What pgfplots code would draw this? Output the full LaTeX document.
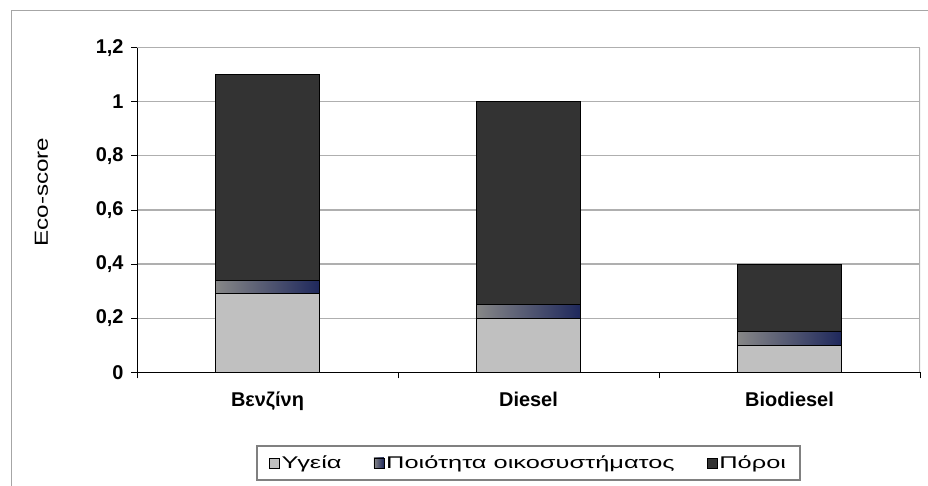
\documentclass[border=0pt]{standalone}
\usepackage{pgfplots}
\pgfplotsset{compat=1.18}
\usepackage{graphicx}
\usepackage{fontspec}
\setmainfont{Liberation Sans}
\definecolor{cHealth}{RGB}{192,192,192}
\definecolor{cEcoL}{RGB}{135,135,135}
\definecolor{cEcoM}{RGB}{80,88,120}
\definecolor{cEcoR}{RGB}{30,40,92}
\definecolor{cRes}{RGB}{51,51,51}
\definecolor{cGrid}{RGB}{175,175,175}
\begin{document}
\begin{tikzpicture}[x=1bp,y=1bp]
\path[use as bounding box] (0,0) rectangle (928,486);
\draw[gray!70, line width=1bp] (11,0) -- (11,475) -- (928,475);
\begin{axis}[
  at={(137bp,113.7bp)}, anchor=south west,
  width=783bp, height=324.6bp, scale only axis,
  ybar, bar shift=0pt, bar width=0.4,
  xmin=0, xmax=3, ymin=0, ymax=1.2,
  axis lines*=left,
  axis line style={black, line width=0.8bp},
  ytick={0,0.2,0.4,0.6,0.8,1,1.2},
  ymajorgrids, grid style={cGrid, line width=1.2bp},
  /pgf/number format/use comma,
  /pgf/number format/assume math mode=true,
  yticklabel style={font=\bfseries\fontsize{20}{20}\selectfont, xshift=-4bp},
  xtick={0.5,1.5,2.5},
  xticklabels={Βενζίνη,Diesel,Biodiesel},
  xticklabel style={font=\bfseries\fontsize{20}{20}\selectfont, yshift=-10bp},
  minor xtick={0,1,2,3},
  every major x tick/.append style={draw=none},
  tick align=outside, major tick length=6bp, minor tick length=6bp,
  tick style={black, line width=0.8bp},
  ylabel={\scalebox{1.28}[1]{Eco-score}},
  ylabel style={font=\fontsize{19}{19}\selectfont, at={(axis description cs:-0.122,0.555)}, anchor=center, rotate=0},
  legend style={at={(axis description cs:0.5,-0.2794)}, anchor=center,
    legend columns=3, draw=gray, line width=1.3bp,
    font=\fontsize{17}{17}\selectfont, inner xsep=12bp, inner ysep=8bp,
    nodes={inner xsep=2bp},
    /tikz/every even column/.append style={column sep=30bp}},
  legend image code/.code={\draw[#1, line width=0.6bp] (0bp,-5bp) rectangle (10bp,5bp);},
  reverse legend,
]
% stacked bars drawn as overlapping cumulative heights (top of each segment)
% Πόροι: top of stack (total)
\addplot[fill=cRes, draw=black, line width=0.8bp] coordinates {(0.5,1.10) (1.5,1.00) (2.5,0.40)};
% Ποιότητα οικοσυστήματος: top of middle segment (one plot per bar so each gets its own gradient)
\addplot[left color=cEcoL, middle color=cEcoM, right color=cEcoR, shading angle=90, draw=black, line width=0.8bp] coordinates {(0.5,0.34)};
\addplot[forget plot, left color=cEcoL, middle color=cEcoM, right color=cEcoR, shading angle=90, draw=black, line width=0.8bp] coordinates {(1.5,0.25)};
\addplot[forget plot, left color=cEcoL, middle color=cEcoM, right color=cEcoR, shading angle=90, draw=black, line width=0.8bp] coordinates {(2.5,0.15)};
% Υγεία: bottom segment
\addplot[fill=cHealth, draw=black, line width=0.8bp] coordinates {(0.5,0.29) (1.5,0.20) (2.5,0.10)};
\legend{\scalebox{1.5}[1]{Πόροι},\scalebox{1.5}[1]{Ποιότητα οικοσυστήματος},\scalebox{1.5}[1]{Υγεία}}
\draw[cGrid, line width=1.2bp] (axis cs:3,0) -- (axis cs:3,1.2);
\end{axis}
\end{tikzpicture}
\end{document}
